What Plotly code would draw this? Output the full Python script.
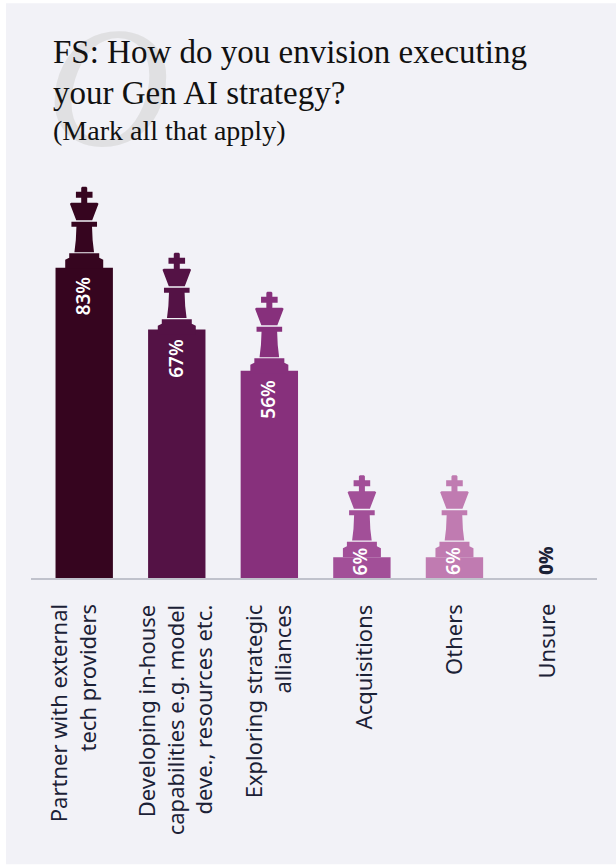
import plotly.graph_objects as go

# Survey results
categories = [
    "Partner with external<br>tech providers",
    "Developing in-house<br>capabilities e.g. model<br>deve., resources etc.",
    "Exploring strategic<br>alliances",
    "Acquisitions",
    "Others",
    "Unsure",
]
values = [83.3, 66.7, 55.6, 5.6, 5.6, 0]
bar_colors = ["#36051f", "#541245", "#87307c", "#a24f98", "#c07bb1", "#1b2136"]

PANEL = "#f2f2f7"
INK = "#1b2136"
W, H = 616, 865
AXIS_Y = 578.5
PLOT_TOP = 150
PX_PER_UNIT = 3.73

# Pictogram drawn on each bar, pixel offsets from the bar top
KING = (
    "M-19,0 L-19,9 L-15,11 L-15,15.5 L15,15.5 L15,11 L19,9 L19,0 Z "
    "M-9.8,16.7 Q-8,28 -7.8,42 L7.8,42 Q8,28 9.8,16.7 Z "
    "M-12.8,42 L-12.8,47 L12.8,47 L12.8,42 Z "
    "M-8,48.5 L-14.3,65 L-13,66 L-3,66 L-3,71 L-8.3,71 L-8.3,77 L-3,77 "
    "L-3,81 L-2,82 L2,82 L3,81 L3,77 L8.3,77 L8.3,71 L3,71 L3,66 L13,66 L14.3,65 L8,48.5 Z"
)
# how far each king sits down into its bar, in pixels
king_sink = [1.2, 5.3, 3, 0, 0, 0]
# sideways nudge of the category labels, in pixels
label_shift = [-12, -2, -2, 1, -2, -2]

fig = go.Figure(
    go.Bar(
        x=list(range(len(categories))),
        y=values,
        marker=dict(color=bar_colors, line_width=0),
        width=0.62,
        hoverinfo="skip",
    )
)

# Background panel, leaves a thin white edge
fig.add_shape(
    type="rect", xref="paper", yref="paper", layer="below", line_width=0, fillcolor=PANEL,
    x0=(6 - 31) / (W - 31 - 19), x1=(W - 31) / (W - 31 - 19),
    y0=-(H - AXIS_Y) / (AXIS_Y - PLOT_TOP), y1=(AXIS_Y - 3) / (AXIS_Y - PLOT_TOP),
)

# Kings on top of the bars, none for the empty one
for i, v in enumerate(values):
    if v > 0:
        fig.add_shape(
            type="path", path=KING, xref="x", yref="y",
            xsizemode="pixel", ysizemode="pixel", xanchor=i,
            yanchor=v - king_sink[i] / PX_PER_UNIT,
            fillcolor=bar_colors[i], line_width=0,
        )

# Value labels
for i, v in enumerate(values):
    big = v > 20
    fig.add_annotation(
        x=i, y=v if big else 0, xref="x", yref="y", text=f"{round(v)}%", textangle=-90,
        showarrow=False, yanchor="top" if big else "bottom", yshift=-8 if big else 1, xshift=-1.5,
        font=dict(
            family="Noto Sans", size=19, weight=600 if v > 0 else 800,
            color="white" if v > 0 else INK,
        ),
    )

# Category labels
for i, label in enumerate(categories):
    fig.add_annotation(
        x=i, y=0, xref="x", yref="y", text=label, textangle=-90, align="right",
        showarrow=False, yanchor="top", yshift=-24, xshift=label_shift[i],
        font=dict(family="Noto Sans", size=22, color=INK),
    )


def paper_text(x, y, text, **kw):
    # x, y given in page pixels from the top left
    fig.add_annotation(
        x=(x - 31) / (W - 31 - 19), y=(AXIS_Y - y) / (AXIS_Y - PLOT_TOP),
        xref="paper", yref="paper", text=text, showarrow=False,
        xanchor="left", yanchor="middle", **kw,
    )


paper_text(44, 87, "<i>O</i>", font=dict(family="Liberation Serif", size=172, color="#e0e0e2"))
paper_text(51, 52, "FS: How do you envision executing", font=dict(family="Liberation Serif", size=33, color="#111111"))
paper_text(51, 93, "your Gen AI strategy?", font=dict(family="Liberation Serif", size=33, color="#111111"))
paper_text(51, 130, "(Mark all that apply)", font=dict(family="Liberation Serif", size=28, color="#111111"))

fig.update_layout(
    width=W,
    height=H,
    margin=dict(l=31, r=19, t=PLOT_TOP, b=H - AXIS_Y, pad=0),
    paper_bgcolor="white",
    plot_bgcolor="rgba(0,0,0,0)",
    showlegend=False,
    xaxis=dict(
        range=[-0.575, 5.54],
        showticklabels=False,
        ticks="",
        showgrid=False,
        zeroline=False,
        showline=True,
        linecolor="#c0c2cc",
        linewidth=2,
        automargin=False,
    ),
    yaxis=dict(
        range=[0, (AXIS_Y - PLOT_TOP) / PX_PER_UNIT],
        visible=False,
        showgrid=False,
        zeroline=False,
    ),
)

fig.write_html(
    "out.html",
    config={"displayModeBar": False},
    post_script="document.body.style.margin='0';",
)
